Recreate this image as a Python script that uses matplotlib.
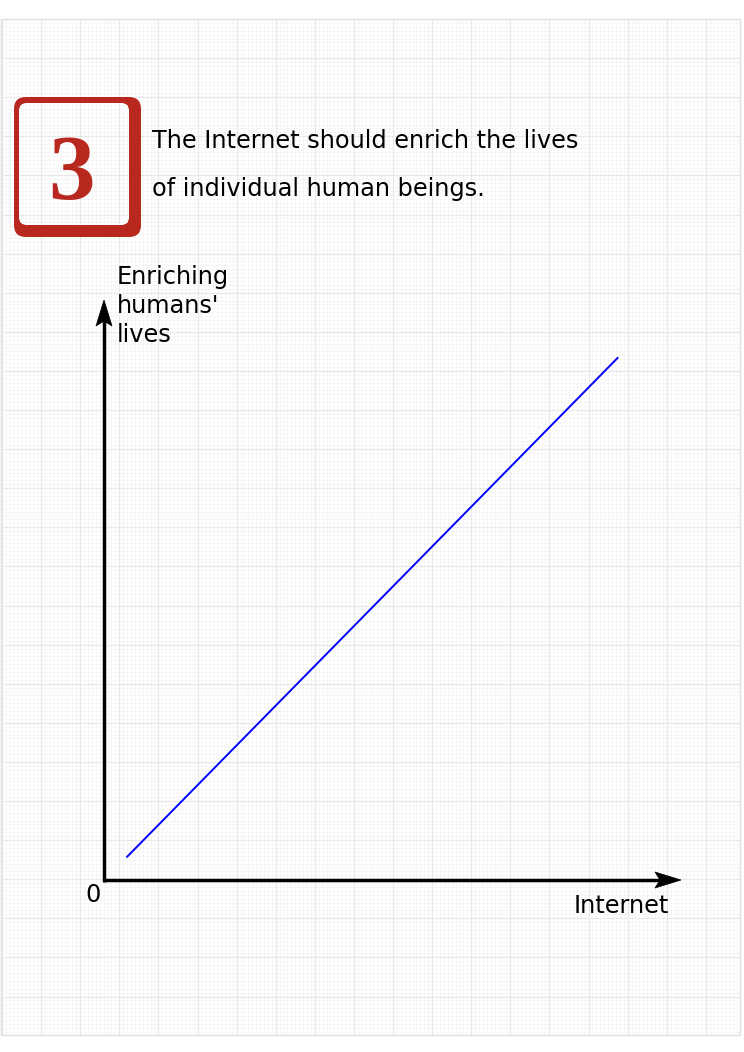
import numpy as np
import matplotlib
matplotlib.use("Agg")
import matplotlib.pyplot as plt
from matplotlib.patches import FancyBboxPatch, Rectangle, Polygon
from matplotlib.collections import LineCollection

# data of the line (axis units 0..10)
internet = [0.4, 8.9]
enrich = [0.4, 9.0]
header_num = "3"
header_lines = ["The Internet should enrich the lives", "of individual human beings."]
x_label = "Internet"
y_label = ["Enriching", "humans'", "lives"]

W, H = 744, 1052
fig = plt.figure(figsize=(W / 100, H / 100), dpi=100)

# background axes in pixel coords (graph paper, header)
bg = fig.add_axes([0, 0, 1, 1])
bg.set_xlim(0, W)
bg.set_ylim(H, 0)
bg.axis("off")

px0, px1, py0, py1 = 1, 740, 19, 1035

def grid_segments(step, xstart, ystart):
    segs = []
    for x in np.arange(xstart, px1, step):
        segs.append([(x, py0), (x, py1)])
    for y in np.arange(ystart, py1, step):
        segs.append([(px0, y), (px1, y)])
    return segs

minor = grid_segments(39.1 / 10, 2, 19)
major = grid_segments(39.1, 2, 19)

def add_grid(clip=None, z=1):
    lc1 = LineCollection(minor, colors="#f6f6f6", linewidths=0.7, zorder=z)
    lc2 = LineCollection(major, colors="#e8e8e8", linewidths=0.8, zorder=z)
    bg.add_collection(lc1)
    bg.add_collection(lc2)
    if clip is not None:
        lc1.set_clip_path(clip)
        lc2.set_clip_path(clip)

add_grid()
bg.add_patch(Rectangle((px0, py0), px1 - px0, py1 - py0, fill=False,
                       edgecolor="#e0e0e0", lw=1, zorder=2))

# red number box
red = "#b8281f"
outer = FancyBboxPatch((24, 107), 107, 120, boxstyle="round,pad=10,rounding_size=12",
                       facecolor=red, edgecolor="none", zorder=3)
bg.add_patch(outer)
inner = FancyBboxPatch((26, 110), 96, 108, boxstyle="round,pad=7,rounding_size=8",
                       facecolor="white", edgecolor="none", zorder=4)
bg.add_patch(inner)
add_grid(clip=inner, z=5)
bg.text(71, 199, header_num, fontsize=67, fontweight="bold", family="Liberation Serif",
        color=red, ha="center", va="baseline", zorder=6)

bg.text(152, 148, header_lines[0], fontsize=17.3, ha="left", va="baseline")
bg.text(152, 196, header_lines[1], fontsize=17.3, ha="left", va="baseline")

# axis labels
for i, line in enumerate(y_label):
    bg.text(117, 284 + 29 * i, line, fontsize=17.3, ha="left", va="baseline")
bg.text(93, 902, "0", fontsize=17.3, ha="center", va="baseline")
bg.text(574, 913, x_label, fontsize=17.3, ha="left", va="baseline")

# chart axes
aw, ah = 577, 580
ax = fig.add_axes([104 / W, 1 - 880 / H, aw / W, ah / H])
ax.set_xlim(0, 10)
ax.set_ylim(0, 10)
ax.patch.set_visible(False)
for s in ax.spines.values():
    s.set_visible(False)
ax.set_xticks([])
ax.set_yticks([])

ax.plot(internet, enrich, color="blue", lw=1.4)

# axis lines with arrow heads
lw = 2.5
ax.plot([0, 1 - 21 / aw], [0, 0], color="black", lw=lw, transform=ax.transAxes,
        clip_on=False, solid_capstyle="butt")
ax.plot([0, 0], [-1.7 / ah, 1 - 21 / ah], color="black", lw=lw, transform=ax.transAxes,
        clip_on=False, solid_capstyle="butt")
xhead = [(1, 0), (1 - 26 / aw, 8 / ah), (1 - 21 / aw, 0), (1 - 26 / aw, -8 / ah)]
yhead = [(0, 1), (-8 / aw, 1 - 26 / ah), (0, 1 - 21 / ah), (8 / aw, 1 - 26 / ah)]
for head in (xhead, yhead):
    ax.add_patch(Polygon(head, closed=True, facecolor="black", edgecolor="black",
                         lw=0.5, transform=ax.transAxes, clip_on=False))

fig.savefig("out.png", dpi=100)
